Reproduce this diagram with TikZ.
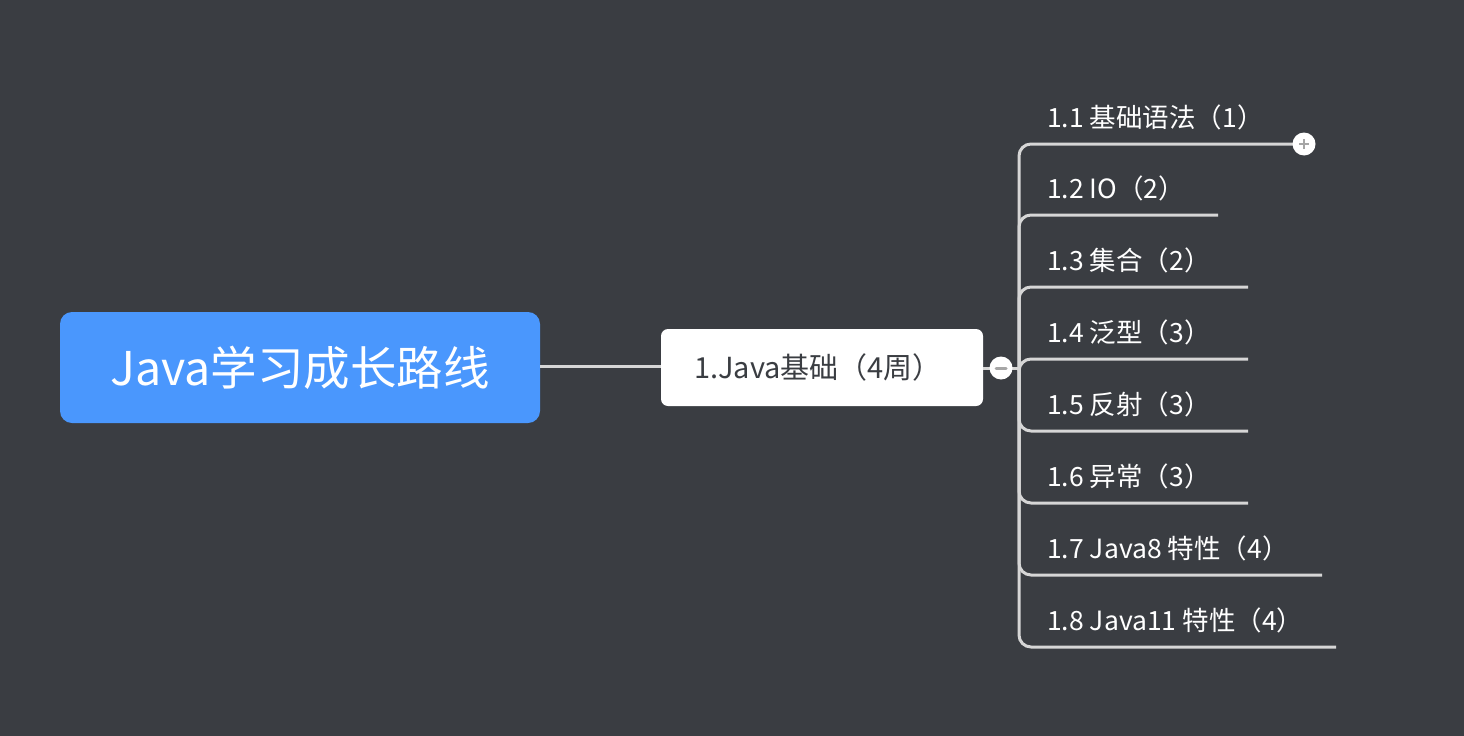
\documentclass[tikz,border=0pt]{standalone}
\usepackage{fontspec}
\setmainfont{Noto Sans CJK SC}
\begin{document}
\begin{tikzpicture}[x=1pt,y=-1pt,
  conn/.style={draw=linec,line width=3pt},
  leaf/.style={anchor=west,text=white,font=\fontsize{26.5}{30}\selectfont,inner sep=0pt},
  ]
\definecolor{bg}{HTML}{3A3D42}
\definecolor{linec}{HTML}{D6D6D6}
\definecolor{rootc}{HTML}{4A97FD}
\definecolor{txt}{HTML}{3A3D42}
\fill[bg] (0,0) rectangle (1464,736);
\useasboundingbox (0,0) rectangle (1464,736);
\node[fill=rootc,rounded corners=12pt,minimum width=480pt,minimum height=111pt,text=white,font=\fontsize{46.5}{52}\selectfont] (root) at (300,367.5) {Java学习成长路线};
\node[fill=white,rounded corners=7pt,minimum width=322pt,minimum height=77pt,text=txt,font=\fontsize{29}{34}\selectfont] (main) at (822,367.5) {\hspace*{-8pt}1.Java基础（4周）};
\draw[conn] (root.east|-0,366) -- (main.west|-0,366);
\coordinate (hub) at (1019,368);
\draw[conn] (main.east|-0,368) -- (hub);
\foreach \y/\xe/\t/\n in {144/1304/{1.1 基础语法（1）}/a, 215/1218/{1.2 IO（2）}/b, 287/1248/{1.3 集合（2）}/c, 359/1248/{1.4 泛型（3）}/d, 431/1248/{1.5 反射（3）}/e, 503/1248/{1.6 异常（3）}/f, 575/1322/{1.7 Java8 特性（4）}/g, 647/1336/{1.8 Java11 特性（4）}/h}{
  \coordinate (e\n) at (\xe,\y);
  \draw[conn,rounded corners=12pt] (hub) -- (1019,\y) -- (e\n);
  \node[leaf] (l\n) at (1047,\y-27) {\t};
}
\node[circle,fill=white,minimum size=23pt,inner sep=0pt] (minus) at (1001,368) {};
\draw[line width=3pt,draw=gray!70,line cap=round] ([xshift=-5pt]minus.center) -- ([xshift=5pt]minus.center);
\node[circle,fill=white,minimum size=23pt,inner sep=0pt] (plus) at (ea) {};
\draw[line width=2.5pt,draw=gray!70] ([xshift=-5pt]plus.center) -- ([xshift=5pt]plus.center) ([yshift=-5pt]plus.center) -- ([yshift=5pt]plus.center);
\end{tikzpicture}
\end{document}
